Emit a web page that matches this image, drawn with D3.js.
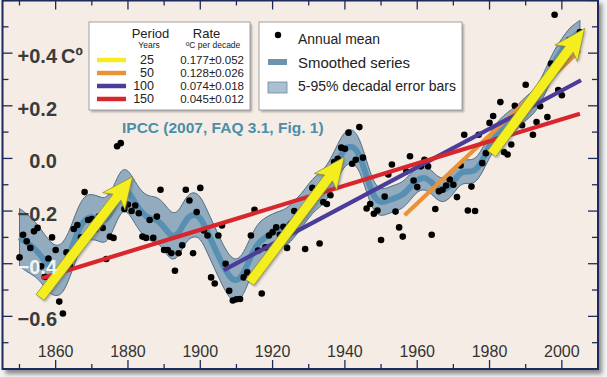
<!DOCTYPE html>
<html><head><meta charset="utf-8">
<script src="https://cdn.jsdelivr.net/npm/d3@7"></script>
<style>body{margin:0;background:#fff;}svg{display:block;}</style>
</head><body>
<svg id="c" width="607" height="377"></svg>
<script>
// ---------- DATA ----------
const firstYear = 1850;
const annualMean = [
-0.376,-0.29,-0.315,-0.34,-0.277,-0.264,-0.41,-0.45,-0.38,-0.30,
-0.348,-0.544,-0.589,-0.357,-0.41,-0.268,-0.253,-0.30,-0.128,-0.234,
-0.23,-0.27,-0.22,-0.264,-0.382,-0.297,-0.302,0.046,0.058,-0.192,
-0.175,-0.20,-0.179,-0.208,-0.297,-0.302,-0.234,-0.302,-0.221,-0.119,
-0.348,-0.348,-0.36,-0.427,-0.36,-0.33,-0.119,-0.16,-0.36,-0.204,
-0.112,-0.274,-0.293,-0.452,-0.475,-0.293,-0.255,-0.40,-0.503,-0.54,
-0.535,-0.534,-0.452,-0.433,-0.293,-0.195,-0.35,-0.513,-0.338,-0.293,
-0.28,-0.262,-0.29,-0.26,-0.34,-0.25,-0.20,-0.22,-0.22,-0.344,
-0.18,-0.112,-0.15,-0.323,-0.166,-0.173,-0.14,-0.014,-0.001,0.041,
0.037,0.098,-0.02,-0.005,0.119,0.003,-0.19,-0.173,-0.21,-0.198,
-0.31,-0.145,-0.061,-0.023,-0.202,-0.262,-0.297,-0.05,0.008,-0.084,
-0.109,-0.03,-0.005,-0.03,-0.29,-0.192,-0.125,-0.119,-0.103,-0.08,
-0.10,-0.147,-0.027,0.09,-0.198,-0.107,-0.20,0.09,-0.018,0.02,
0.135,0.161,0.07,0.214,0.024,0.015,0.053,0.20,0.17,0.126,
0.28,0.22,0.09,0.138,0.198,0.28,0.157,0.36,0.546,0.26,
0.24,0.38,0.45,0.45,0.42,0.48
];
const smoothYears = d3.range(1850, 2005, 2).concat([2005]);
const smoothed = [
-0.30,-0.32,-0.34,-0.37,-0.41,-0.43,-0.42,-0.36,
-0.28,-0.23,-0.22,-0.23,-0.24,-0.19,-0.12,
-0.12,-0.17,-0.21,-0.23,-0.23,-0.26,-0.30,-0.29,-0.23,-0.21,
-0.22,-0.28,-0.34,-0.40,-0.45,-0.47,-0.44,-0.37,-0.32,-0.30,
-0.28,-0.27,-0.26,-0.23,-0.20,-0.16,-0.13,-0.11,-0.07,-0.01,
0.04,0.05,0.02,-0.07,-0.15,-0.17,-0.16,-0.15,-0.14,-0.11,
-0.08,-0.07,-0.09,-0.12,-0.12,-0.09,-0.05,-0.05,-0.05,-0.01,
0.05,0.09,0.12,0.14,0.16,0.19,0.21,0.25,0.31,0.37,
0.41,0.45,0.47,0.48
];
const bandHalf = [
0.11,0.11,0.105,0.10,0.10,0.095,0.095,0.09,
0.09,0.09,0.085,0.085,0.085,0.08,0.08,
0.08,0.08,0.08,0.085,0.085,0.09,0.09,0.085,0.085,0.085,
0.08,0.08,0.08,0.08,0.08,0.08,0.08,0.075,0.075,0.075,
0.07,0.07,0.07,0.07,0.065,0.065,0.065,0.065,0.065,0.065,
0.065,0.065,0.06,0.06,0.055,0.05,0.05,0.05,0.05,0.05,
0.045,0.045,0.045,0.045,0.045,0.045,0.045,0.045,0.045,0.045,
0.045,0.045,0.045,0.045,0.045,0.045,0.045,0.045,0.045,0.045,
0.045,0.045,0.045,0.045
];
// linear trends (legend rows)
const trendPeriods = ["25", "50", "100", "150"];
const trendRates = ["0.177\u00b10.052", "0.128\u00b10.026", "0.074\u00b10.018", "0.045\u00b10.012"];
const trendColors = ["#f4ee1e", "#ea9238", "#4b3c99", "#d8262c"];
const lineStartYear = [1956.5, 1906.5, 1856.2];
const lineStartVal = [-0.216, -0.424, -0.455];
const lineEndYear = [2005, 2005.3, 2005];
const lineEndVal = [0.41, 0.297, 0.17];
const lineColorIdx = [1, 2, 3];
const arrowStartYear = [1855.7, 1913.7, 1980.6];
const arrowStartVal = [-0.528, -0.471, 0.018];
const arrowEndYear = [1881.3, 1939.8, 2006.3];
const arrowEndVal = [-0.069, 0.005, 0.494];
const yTickVals = [0.4, 0.2, 0.0, -0.2, -0.4, -0.6];
const yTickLabels = ["+0.4", "+0.2", "0.0", "\u22120.2", "\u22120.4", "\u22120.6"];
const xTickVals = [1860, 1880, 1900, 1920, 1940, 1960, 1980, 2000];
const legendItems = ["Annual mean", "Smoothed series", "5-95% decadal error bars"];
const titleText = "IPCC (2007, FAQ 3.1, Fig. 1)";

// ---------- CHART ----------
const svg = d3.select("#c");
const L = 2.5, R = 598, T = 0.5, B = 369;
const x = d3.scaleLinear().domain([1845.3, 2010]).range([L, R]);
const y = d3.scaleLinear().domain([-0.8, 0.6]).range([B, T]);

const defs = svg.append("defs");
const f = defs.append("filter").attr("id", "sh").attr("x", "-5%").attr("y", "-5%").attr("width", "115%").attr("height", "115%");
f.append("feGaussianBlur").attr("stdDeviation", 2.2);
const f2 = defs.append("filter").attr("id", "sh2").attr("x", "-10%").attr("y", "-10%").attr("width", "130%").attr("height", "130%");
f2.append("feGaussianBlur").attr("stdDeviation", 1.2);
defs.append("clipPath").attr("id", "clip").append("rect")
  .attr("x", L).attr("y", T).attr("width", R - L).attr("height", B - T);

svg.append("rect").attr("width", 607).attr("height", 377).attr("fill", "#f3f3f3");
svg.append("rect").attr("x", L + 3).attr("y", T + 3).attr("width", R - L + 1).attr("height", B - T + 2)
  .attr("fill", "#8a8a8a").attr("filter", "url(#sh)");
svg.append("rect").attr("x", L).attr("y", T).attr("width", R - L).attr("height", B - T)
  .attr("fill", "#f5ede5");

const plot = svg.append("g").attr("clip-path", "url(#clip)");

// ticks
const axisColor = "#1d2a5c";
const tg = svg.append("g").attr("stroke", axisColor).attr("stroke-width", 1.3);
d3.range(-0.8, 0.61, 0.1).forEach(v => {
  const major = Math.abs(Math.round(v * 10)) % 2 === 0;
  const len = major ? 10 : 6;
  tg.append("line").attr("x1", L).attr("x2", L + len).attr("y1", y(v)).attr("y2", y(v));
  tg.append("line").attr("x1", R).attr("x2", R - len).attr("y1", y(v)).attr("y2", y(v));
});
d3.range(1850, 2011, 10).forEach(yr => {
  const major = yr % 20 === 0;
  const len = major ? 9 : 5;
  tg.append("line").attr("x1", x(yr)).attr("x2", x(yr)).attr("y1", B).attr("y2", B - len);
  tg.append("line").attr("x1", x(yr)).attr("x2", x(yr)).attr("y1", T).attr("y2", T + len);
});

// band
const sData = smoothYears.map((yr, i) => ({ yr, v: smoothed[i], h: bandHalf[i] }));
const curve = d3.curveBasis;
plot.append("path").datum(sData)
  .attr("d", d3.area().x(d => x(d.yr)).y0(d => y(d.v - d.h)).y1(d => y(d.v + d.h)).curve(curve))
  .attr("fill", "#93abbe").attr("stroke", "#4f6e86").attr("stroke-width", 1);
plot.append("path").datum(sData)
  .attr("d", d3.line().x(d => x(d.yr)).y(d => y(d.v)).curve(curve))
  .attr("fill", "none").attr("stroke", "#5790b3").attr("stroke-width", 6).attr("stroke-linejoin", "round");

// dots
plot.append("g").selectAll("circle").data(annualMean).join("circle")
  .attr("cx", (d, i) => x(firstYear + i)).attr("cy", d => y(d)).attr("r", 3.3).attr("fill", "#000");

// y labels
const yl = svg.append("g").attr("font-family", "Liberation Sans, Arial, sans-serif")
  .attr("font-weight", "bold").attr("font-size", 20);
yTickVals.forEach((v, i) => {
  yl.append("text").attr("x", 57).attr("y", y(v) + 10).attr("text-anchor", "end")
    .attr("fill", v === -0.4 ? "#f4f4f4" : "#3b3b3b").text(yTickLabels[i]);
});
yl.append("text").attr("x", 61).attr("y", y(0.4) + 10).attr("fill", "#3b3b3b").text("C\u00ba");

// x labels
svg.append("g").selectAll("text").data(xTickVals).join("text")
  .attr("x", d => x(d)).attr("y", 357).attr("text-anchor", "middle")
  .attr("font-family", "Liberation Sans, Arial, sans-serif").attr("font-size", 16)
  .attr("fill", "#333").text(d => d);

// trend lines
lineStartYear.forEach((s, i) => {
  plot.append("line").attr("x1", x(s)).attr("y1", y(lineStartVal[i]))
    .attr("x2", x(lineEndYear[i])).attr("y2", y(lineEndVal[i]))
    .attr("stroke", trendColors[lineColorIdx[i]]).attr("stroke-width", 4.2);
});

// arrows
function arrowPath(x0, y0, x1, y1, sw, hw, hl) {
  const dx = x1 - x0, dy = y1 - y0, len = Math.hypot(dx, dy), ux = dx / len, uy = dy / len, px = -uy, py = ux;
  const bx = x1 - ux * hl, by = y1 - uy * hl;
  const nx = x1 - ux * (hl - 5), ny = y1 - uy * (hl - 5);
  const pts = [[x0 + px * sw / 2, y0 + py * sw / 2], [nx + px * sw / 2, ny + py * sw / 2], [bx + px * hw / 2, by + py * hw / 2],
    [x1, y1], [bx - px * hw / 2, by - py * hw / 2], [nx - px * sw / 2, ny - py * sw / 2], [x0 - px * sw / 2, y0 - py * sw / 2]];
  return "M" + pts.map(p => p.map(c => c.toFixed(1)).join(",")).join("L") + "Z";
}
arrowStartYear.forEach((s, i) => {
  const d = arrowPath(x(s), y(arrowStartVal[i]), x(arrowEndYear[i]), y(arrowEndVal[i]), 10, 28, 31);
  plot.append("path").attr("d", d).attr("fill", "#555").attr("opacity", 0.45)
    .attr("transform", "translate(1.5,1.5)").attr("filter", "url(#sh2)");
  plot.append("path").attr("d", d).attr("fill", trendColors[0]).attr("stroke", "#8a8a50").attr("stroke-width", 0.8);
});

// title
svg.append("text").attr("x", 122).attr("y", 133).attr("font-family", "Liberation Sans, Arial, sans-serif")
  .attr("font-weight", "bold").attr("font-size", 15.5).attr("fill", "#4b8ea9").text(titleText);

// legend boxes
function box(x0, y0, w, h) {
  svg.append("rect").attr("x", x0 + 2).attr("y", y0 + 2).attr("width", w).attr("height", h)
    .attr("fill", "#777").attr("opacity", 0.6).attr("filter", "url(#sh2)");
  svg.append("rect").attr("x", x0).attr("y", y0).attr("width", w).attr("height", h)
    .attr("fill", "#fff").attr("stroke", "#a0a0a0").attr("stroke-width", 1);
}
box(89, 22, 161, 88);
box(259, 22, 203, 88);

const lg = svg.append("g").attr("font-family", "Liberation Sans, Arial, sans-serif").attr("fill", "#222");
lg.append("text").attr("x", 150.5).attr("y", 38).attr("text-anchor", "middle").attr("font-size", 13).text("Period");
lg.append("text").attr("x", 206.5).attr("y", 38).attr("text-anchor", "middle").attr("font-size", 13).text("Rate");
lg.append("text").attr("x", 149).attr("y", 48).attr("text-anchor", "middle").attr("font-size", 8.5).text("Years");
const rt = lg.append("text").attr("x", 213).attr("y", 48).attr("text-anchor", "middle").attr("font-size", 8.5);
rt.append("tspan").attr("font-size", 6.5).attr("dy", -2).text("o");
rt.append("tspan").attr("dy", 2).text("C  per decade");
trendPeriods.forEach((p, i) => {
  const by = 64 + i * 13;
  lg.append("line").attr("x1", 97).attr("x2", 126).attr("y1", by - 4).attr("y2", by - 4)
    .attr("stroke", trendColors[i]).attr("stroke-width", 4.5);
  lg.append("text").attr("x", 154).attr("y", by).attr("text-anchor", "end").attr("font-size", 12.5).text(p);
  lg.append("text").attr("x", 244).attr("y", by).attr("text-anchor", "end").attr("font-size", 11.5).text(trendRates[i]);
});
lg.append("circle").attr("cx", 278).attr("cy", 35).attr("r", 3.2).attr("fill", "#000");
lg.append("rect").attr("x", 268).attr("y", 59).attr("width", 19).attr("height", 6).attr("fill", "#6f93ad");
lg.append("rect").attr("x", 268).attr("y", 82).attr("width", 19).attr("height", 11).attr("fill", "#a9c0d1")
  .attr("stroke", "#6d8aa0").attr("stroke-width", 0.8);
const lbY = [44, 67.5, 91];
const lbW = [82, 112, 158];
legendItems.forEach((t, i) => {
  lg.append("text").attr("x", 298).attr("y", lbY[i]).attr("font-size", 15.5)
    .attr("textLength", lbW[i]).attr("lengthAdjust", "spacingAndGlyphs").text(t);
});

// frame
svg.append("rect").attr("x", L).attr("y", T).attr("width", R - L).attr("height", B - T)
  .attr("fill", "none").attr("stroke", axisColor).attr("stroke-width", 2);
</script>
</body></html>
